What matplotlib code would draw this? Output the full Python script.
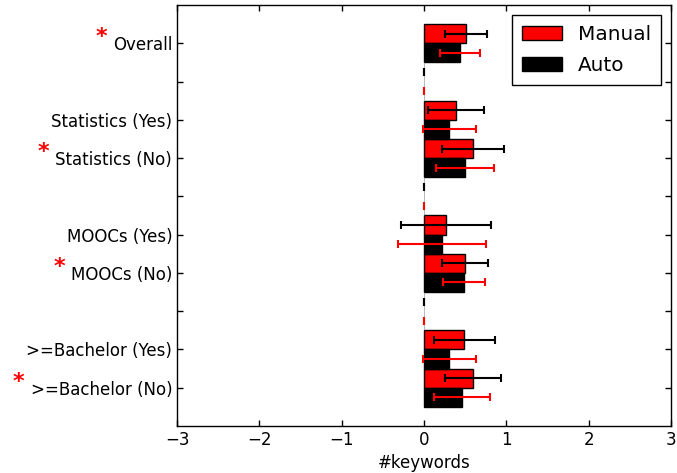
import numpy as np
import matplotlib
matplotlib.use('Agg')
import matplotlib.pyplot as plt

labels = ['Overall', '', 'Statistics (Yes)', 'Statistics (No)', '',
          'MOOCs (Yes)', 'MOOCs (No)', '', '>=Bachelor (Yes)', '>=Bachelor (No)']
starred = [True, False, False, True, False, False, True, False, False, True]
manual_mean = [0.51, 0, 0.39, 0.60, 0, 0.27, 0.50, 0, 0.49, 0.60]
manual_err = [0.26, 0, 0.34, 0.375, 0, 0.55, 0.28, 0, 0.367, 0.34]
auto_mean = [0.44, 0, 0.31, 0.50, 0, 0.22, 0.486, 0, 0.31, 0.46]
auto_err = [0.24, 0, 0.32, 0.35, 0, 0.53, 0.26, 0, 0.32, 0.34]

plt.rcParams['font.family'] = 'DejaVu Sans'
plt.rcParams['font.size'] = 12

fig = plt.figure(figsize=(6.77, 4.73), dpi=100)
ax = fig.add_axes([0.2615, 0.0994, 0.7295, 0.8900])

pos = np.arange(len(labels))
has = np.array([l != '' for l in labels])
bh = 0.5

ax.barh(pos[has] - bh / 2, np.array(manual_mean)[has], height=bh, color='red',
        edgecolor='black', linewidth=1, label='Manual')
ax.barh(pos[has] + bh / 2, np.array(auto_mean)[has], height=bh, color='black',
        edgecolor='black', linewidth=1, label='Auto')
# empty spacer rows only show a faint line at zero
ax.barh(pos[~has] - bh / 2, np.array(manual_mean)[~has], height=bh, color='red',
        edgecolor='gray', linewidth=0.4)
ax.barh(pos[~has] + bh / 2, np.array(auto_mean)[~has], height=bh, color='black',
        edgecolor='gray', linewidth=0.4)
ax.errorbar(manual_mean, pos - bh / 2, xerr=manual_err, fmt='none', ecolor='black',
            elinewidth=1.5, capsize=3.2, capthick=1.5)
ax.errorbar(auto_mean, pos + bh / 2, xerr=auto_err, fmt='none', ecolor='red',
            elinewidth=1.5, capsize=3.2, capthick=1.5)

ax.set_xlim(-3, 3)
ax.set_ylim(len(labels), -1)
ax.set_yticks(pos)
ax.set_yticklabels(labels)
ax.set_xlabel('#keywords')
ax.tick_params(direction='in', top=True, right=True, length=4, width=1)
for s in ax.spines.values():
    s.set_linewidth(1)

leg = ax.legend(loc='upper right', fontsize=14.4, fancybox=False, edgecolor='black',
                framealpha=1, borderaxespad=0.5, labelspacing=0.6, borderpad=0.5)
leg.get_frame().set_linewidth(1)

# red stars in front of the significant rows
fig.canvas.draw()
r = fig.canvas.get_renderer()
inv = fig.transFigure.inverted()
for lab, st in zip(ax.get_yticklabels(), starred):
    if not st:
        continue
    bb = lab.get_window_extent(r)
    x0, yc = inv.transform((bb.x0 - 6, (bb.y0 + bb.y1) / 2 + 8))
    fig.text(x0, yc, '*', color='red', fontsize=16, fontweight='bold',
             ha='right', va='center')

fig.savefig('out.png', dpi=100)
